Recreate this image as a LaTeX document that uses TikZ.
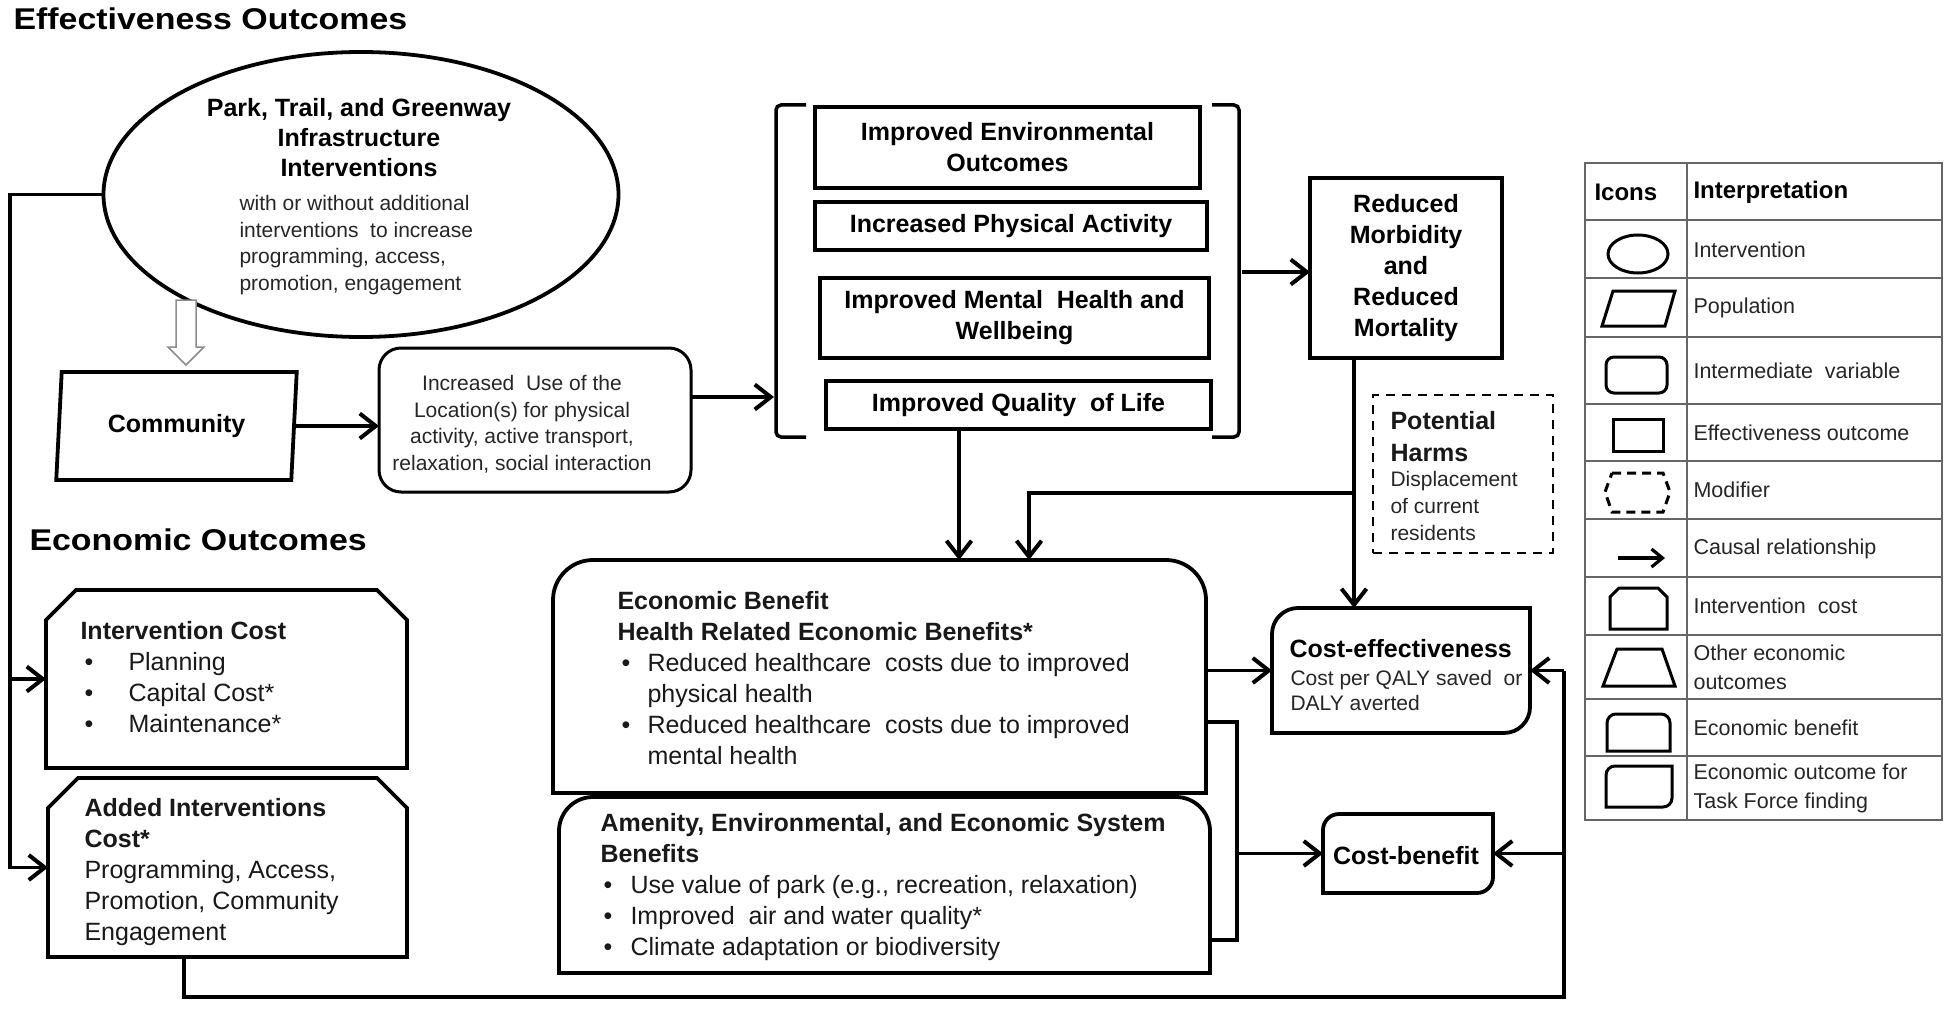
\documentclass[tikz,border=0pt]{standalone}
\usepackage{fontspec}
\setmainfont{Liberation Sans}
\newfontfamily\wideB[FakeStretch=1.13]{Liberation Sans}
\usetikzlibrary{arrows.meta,shapes.geometric,calc}
\newcommand\RoundTop[3][box]{\draw[#1] (#2.south west) -- ([yshift=-#3]#2.north west) arc[start angle=180,end angle=90,radius=#3] -- ([xshift=-#3]#2.north east) arc[start angle=90,end angle=0,radius=#3] -- (#2.south east) -- cycle;}
\newcommand\RoundTLBR[3][box]{\draw[#1] (#2.south west) -- ([yshift=-#3]#2.north west) arc[start angle=180,end angle=90,radius=#3] -- (#2.north east) -- ([yshift=#3]#2.south east) arc[start angle=0,end angle=-90,radius=#3] -- cycle;}
\newcommand\Chamfer[3][box]{\draw[#1] (#2.south west) -- ([yshift=-#3]#2.north west) -- ([xshift=#3]#2.north west) -- ([xshift=-#3]#2.north east) -- ([yshift=-#3]#2.north east) -- (#2.south east) -- cycle;}
\begin{document}
\begin{tikzpicture}[x=1pt,y=-1pt,
  box/.style={draw,line width=3.8pt,line join=miter},
  icon/.style={draw,line width=3pt,line join=miter},
  frame/.style={inner sep=0pt,outer sep=0pt},
  conn/.style={line width=3.5pt,line join=miter},
  arr/.style={conn,-{Straight Barb[length=16pt,width=25pt,line width=4pt]}},
  grid/.style={draw=black!60,line width=1.5pt},
  head/.style={font=\wideB\fontsize{30}{36}\selectfont\bfseries,anchor=west},
  bt/.style={font=\fontsize{25}{31}\selectfont\bfseries,align=center},
  rt/.style={font=\fontsize{25}{31}\selectfont,align=left,anchor=west,text=black!90},
  st/.style={font=\fontsize{21}{26.5}\selectfont,align=left,anchor=west,text=black!85},
  lg/.style={font=\fontsize{21.5}{29}\selectfont,align=left,anchor=west,text=black!85}]
\useasboundingbox[fill=white] (0,0) rectangle (1950,1016);

% headings
\node[head] (effh) at (10,19) {Effectiveness Outcomes};
\node[head] (ecoh) at (26,540) {Economic Outcomes};

% intervention ellipse
\node[ellipse,draw,line width=3.8pt,minimum width=515pt,minimum height=285pt,frame] (park) at (361,194.5) {};
\node[bt,font=\fontsize{25}{30}\selectfont\bfseries] (parkt) at (359,138) {Park, Trail, and Greenway\\Infrastructure\\Interventions};
\node[st] (parkb) at (236,245) {with or without additional\\interventions\ \ to increase\\programming,\ access,\\promotion,\ engagement};

% hollow arrow
\draw[draw=black!45,line width=1.5pt,fill=white,line join=miter] (176,300) -- (196,300) -- (196,347) -- (204,347) -- (186,365) -- (168,347) -- (176,347) -- cycle;

% community
\node[trapezium,trapezium left angle=82,trapezium right angle=98,trapezium stretches=true,draw,line width=3.8pt,minimum width=241pt,minimum height=108pt,frame,font=\fontsize{25}{31}\selectfont\bfseries] (com) at (176.5,426) {Community};

% increased use
\node[draw,line width=3pt,rounded corners=22pt,minimum width=312pt,minimum height=144pt,frame] (use) at (535,420) {};
\node[st,anchor=center,align=center] (uset) at (522,424) {Increased\ \ Use of the\\Location(s) for physical\\activity, active transport,\\relaxation,\ social interaction};

% bracket group
\coordinate (brL) at (774,397);
\coordinate (brR) at (1242,272);
\draw[conn,rounded corners=5pt] (806,105) -- (776,105) -- (776,437) -- (806,437);
\draw[conn,rounded corners=5pt] (1212,105) -- (1239,105) -- (1239,437) -- (1212,437);

\node[box,bt,minimum width=385pt,minimum height=81pt,frame] (env) at (1007.5,147.5) {Improved Environmental\\Outcomes};
\node[box,bt,minimum width=392pt,minimum height=48pt,frame] (pa) at (1011,226) {Increased Physical Activity};
\node[box,bt,minimum width=389pt,minimum height=80pt,frame] (mh) at (1014.5,318) {Improved Mental\ \ Health and\\Wellbeing};
\node[box,bt,minimum width=385pt,minimum height=48pt,frame] (qol) at (1018.5,405) {Improved Quality\ \ of Life};

% reduced morbidity
\node[box,bt,minimum width=192pt,minimum height=180pt,frame] (rm) at (1406,268) {Reduced\\Morbidity\\and\\Reduced\\Mortality};

% potential harms
\node[draw,line width=2.6pt,dash pattern=on 9pt off 7pt,minimum width=180pt,minimum height=158pt,frame] (ph) at (1463,474) {};
\node[bt,align=left,anchor=west,text=black!90,font=\fontsize{25}{32}\selectfont\bfseries] (pht) at (1387,437) {Potential\\Harms};
\node[st,font=\fontsize{21}{27}\selectfont] (phb) at (1387,506) {Displacement\\of current\\residents};

% economic benefit
\node[frame,minimum width=653pt,minimum height=233pt] (eb) at (879.5,676.5) {};
\RoundTop{eb}{40pt}
\node[rt] (ebt) at (614,678) {\textbf{Economic Benefit}\\\textbf{Health Related Economic Benefits*}\\\hspace*{4pt}\makebox[26pt][l]{\textbullet}Reduced healthcare\ \ costs due to improved\\\hspace*{30pt}physical health\\\hspace*{4pt}\makebox[26pt][l]{\textbullet}Reduced healthcare\ \ costs due to improved\\\hspace*{30pt}mental health};

% amenity
\node[frame,minimum width=651pt,minimum height=176pt] (am) at (884.5,885) {};
\RoundTop{am}{34pt}
\node[rt] (amt) at (597,887) {\textbf{Amenity, Environmental, and Economic System}\\\textbf{Benefits}\\\hspace*{3pt}\makebox[27pt][l]{\textbullet}Use value of park (e.g., recreation, relaxation)\\\hspace*{3pt}\makebox[27pt][l]{\textbullet}Improved\ \ air and water quality*\\\hspace*{3pt}\makebox[27pt][l]{\textbullet}Climate adaptation or biodiversity};

% cost-effectiveness
\node[frame,minimum width=258pt,minimum height=125pt] (ce) at (1401,670.5) {};
\RoundTLBR{ce}{26pt}
\node[bt,anchor=west] (cet) at (1286,649) {Cost-effectiveness};
\node[st,font=\fontsize{21}{25}\selectfont] (ceb) at (1287,690) {Cost per QALY saved\ \ or\\DALY averted};

% cost-benefit
\node[frame,minimum width=170pt,minimum height=79pt] (cb) at (1408,853.5) {};
\RoundTLBR{cb}{16pt}
\node[bt] (cbt) at (1406,856) {Cost-benefit};

% intervention cost
\node[frame,minimum width=361pt,minimum height=178pt] (ic) at (226.5,679) {};
\Chamfer{ic}{30pt}
\node[rt] (ict) at (77,677) {\textbf{Intervention Cost}\\\hspace*{4pt}\makebox[44pt][l]{\textbullet}Planning\\\hspace*{4pt}\makebox[44pt][l]{\textbullet}Capital Cost*\\\hspace*{4pt}\makebox[44pt][l]{\textbullet}Maintenance*};

% added interventions cost
\node[frame,minimum width=359pt,minimum height=179pt] (aic) at (227.5,867.5) {};
\Chamfer{aic}{30pt}
\node[rt] (aict) at (81,872) {\textbf{Added Interventions}\\\textbf{Cost*}\\Programming, Access,\\Promotion,\ Community\\Engagement};

% ---------- connectors ----------
\coordinate (lx) at (10,0);
\draw[arr] (park.west) -- (park.west -| lx) |- (aic.west);
\draw[arr] (ic.west -| lx) -- (ic.west);
\draw[arr] (com.east) -- (com.east -| use.west);
\draw[arr] (use.east |- brL) -- (brL);
\draw[arr] (brR) -- (brR -| rm.west);
\draw[arr] ([xshift=133pt]qol.south west) -- ([xshift=133pt]qol.south west |- eb.north);
\draw[arr] ([xshift=44pt]rm.south west) -- ([xshift=44pt]rm.south west |- ce.north);
\coordinate (jn) at (1354,493);
\draw[arr] (jn) -| ([xshift=476pt]eb.north west);
\draw[arr] (eb.east |- ce.west) -- (ce.west);
\coordinate (b1) at (1237,722);
\coordinate (b2) at (1237,940);
\draw[conn] (b1 -| eb.east) -- (b1) -- (b2) -- (b2 -| am.east);
\draw[arr] (b1 |- cb.west) -- (cb.west);
\coordinate (rx) at (1564,0);
\draw[conn] ([xshift=136pt]aic.south west) -- ++(0,40) -| (ce.east -| rx);
\draw[arr] (ce.east -| rx) -- (ce.east);
\draw[arr] (cb.east -| rx) -- (cb.east);

% ---------- legend ----------
\draw[grid] (1585,163) rectangle (1942,820);
\draw[grid] (1687,163) -- (1687,820);
\foreach \yy in {220,278,337,404,461,519,577,635,699,756} \draw[grid] (1585,\yy) -- (1942,\yy);
\node[font=\fontsize{24}{29}\selectfont\bfseries,anchor=west] (lgi) at (1591,192) {Icons};
\node[font=\fontsize{24}{29}\selectfont\bfseries,anchor=west] (lgh) at (1690,192) {Interpretation};
\node[lg] (l1) at (1690,250) {Intervention};
\node[lg] (l2) at (1690,308) {Population};
\node[lg] (l3) at (1690,371) {Intermediate\ \ variable};
\node[lg] (l4) at (1690,433) {Effectiveness outcome};
\node[lg] (l5) at (1690,490) {Modifier};
\node[lg] (l6) at (1690,549) {Causal relationship};
\node[lg] (l7) at (1690,606) {Intervention\ \ cost};
\node[lg] (l8) at (1690,667) {Other economic\\outcomes};
\node[lg] (l9) at (1690,728) {Economic benefit};
\node[lg] (l10) at (1690,788) {Economic outcome for\\Task Force finding};
% icons
\draw[icon] (1638,254) ellipse[x radius=30pt,y radius=19pt];
\draw[icon] (1602,326) -- (1613,291) -- (1675,291) -- (1665,326) -- cycle;
\draw[icon,rounded corners=8pt] (1606,357) rectangle (1667,393);
\draw[icon] (1613,419) rectangle (1663,451);
\draw[icon,dash pattern=on 9pt off 6pt] (1612,473) -- (1663,473) -- (1670,492) -- (1663,512) -- (1612,512) -- (1605,492) -- cycle;
\coordinate (ca1) at (1618,558);
\coordinate (ca2) at (1665,558);
\draw[line width=3.2pt,-{Straight Barb[length=11pt,width=18pt,line width=3.2pt]}] (ca1) -- (ca2);
\node[frame,minimum width=57pt,minimum height=41pt] (i7) at (1638.5,608.5) {};
\Chamfer[icon]{i7}{9pt}
\draw[icon] (1603,686) -- (1617,649) -- (1662,649) -- (1675,686) -- cycle;
\node[frame,minimum width=63pt,minimum height=37pt] (i9) at (1638.5,732.5) {};
\RoundTop[icon]{i9}{9pt}
\node[frame,minimum width=66pt,minimum height=41pt] (i10) at (1639,786.5) {};
\RoundTLBR[icon]{i10}{9pt}
\end{tikzpicture}
\end{document}
